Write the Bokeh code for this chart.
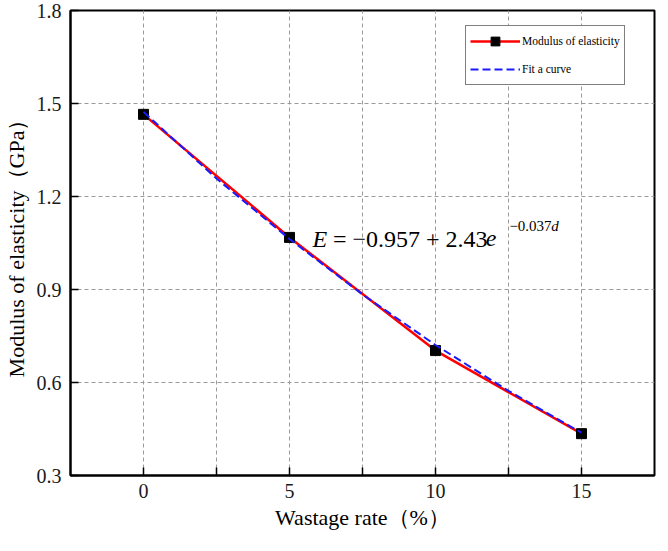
from bokeh.plotting import figure
from bokeh.models import Range1d, FixedTicker, Legend, LegendItem, Label
from bokeh.embed import file_html
from bokeh.resources import INLINE

# ---- data ----
wastage = [0, 5, 10, 15]
modulus = [1.465, 1.068, 0.703, 0.435]

fit_d = [0, 2.5, 5, 7.5, 10, 12.5, 15]
fit_e = [1.473, 1.258, 1.063, 0.884, 0.721, 0.573, 0.438]

x_ticks = [0, 5, 10, 15]
x_minor = [2.5, 7.5, 12.5]
y_ticks = [0.3, 0.6, 0.9, 1.2, 1.5, 1.8]
y_tick_labels = ["0.3", "0.6", "0.9", "1.2", "1.5", "1.8"]

FONT = "'Liberation Serif', 'Times New Roman', serif"

p = figure(width=660, height=535, output_backend="svg", toolbar_location=None,
           x_range=Range1d(-2.5, 17.5), y_range=Range1d(0.3, 1.8),
           min_border_left=65, min_border_right=6, min_border_top=10, min_border_bottom=60,
           background_fill_color="white", border_fill_color="white")

p.outline_line_color = "black"
p.outline_line_width = 2
p.outline_line_alpha = 1.0

xt = FixedTicker(ticks=x_ticks, minor_ticks=x_minor)
yt = FixedTicker(ticks=y_ticks, minor_ticks=[])
p.xaxis.ticker = xt
p.yaxis.ticker = yt
p.xgrid.ticker = xt
p.ygrid.ticker = yt
p.yaxis.major_label_overrides = {t: l for t, l in zip(y_ticks, y_tick_labels)}

for ax in (p.xaxis[0], p.yaxis[0]):
    ax.axis_line_color = "black"
    ax.axis_line_width = 2
    ax.major_tick_in = 8
    ax.major_tick_out = 0
    ax.major_tick_line_width = 1.5
    ax.major_tick_line_color = "black"
    ax.major_label_text_font = FONT
    ax.major_label_text_font_size = "20px"
    ax.major_label_text_color = "#1a1a1a"
    ax.axis_label_text_font = FONT
    ax.axis_label_text_font_size = "22px"
    ax.axis_label_text_font_style = "normal"
    ax.axis_label_text_color = "black"
p.xaxis.major_label_standoff = 8
p.xaxis.axis_label_standoff = 4
p.yaxis.major_label_standoff = 9
p.yaxis.axis_label_standoff = 5
p.xaxis.minor_tick_in = 8
p.xaxis.minor_tick_out = 0
p.xaxis.minor_tick_line_width = 1.5
p.xaxis.minor_tick_line_color = "black"
p.yaxis.minor_tick_line_color = None

p.xaxis.axis_label = "Wastage rate（%）"
p.yaxis.axis_label = "Modulus of elasticity（GPa）"

for g in (p.xgrid[0], p.ygrid[0]):
    g.grid_line_color = "#9a9a9a"
    g.grid_line_dash = "4 3"
    g.grid_line_width = 1
p.xgrid.minor_grid_line_color = "#9a9a9a"
p.xgrid.minor_grid_line_dash = "4 3"
p.xgrid.minor_grid_line_width = 1

red = p.line(wastage, modulus, line_color="#ff0000", line_width=2.5)
sq = p.scatter(wastage, modulus, marker="square", size=10,
               fill_color="black", line_color="black")
blue = p.line(fit_d, fit_e, line_color="#1a1aff", line_width=2, line_dash="8 4")

legend = Legend(items=[LegendItem(label="Modulus of elasticity", renderers=[red, sq]),
                       LegendItem(label="Fit a curve", renderers=[blue])],
                location=(395, 390), margin=0, padding=4, spacing=6,
                glyph_width=50, glyph_height=22, label_height=22, label_standoff=2,
                label_text_font=FONT, label_text_font_size="11.5px",
                label_text_color="black",
                border_line_color="black", border_line_width=1.5,
                background_fill_color="white", background_fill_alpha=1.0)
p.add_layout(legend)

# equation annotation
eq_y = 1.064
sup_y = 1.105
pieces = [
    (5.79, eq_y, "E", "24px", "italic"),
    (6.49, eq_y, "= \u22120.957 + 2.43", "24px", "normal"),
    (11.72, eq_y, "e", "24px", "italic"),
    (12.53, sup_y, "\u22120.037", "15px", "normal"),
    (13.96, sup_y, "d", "15px", "italic"),
]
for x, y, t, fs, st in pieces:
    p.add_layout(Label(x=x, y=y, text=t, text_font=FONT, text_font_size=fs,
                       text_font_style=st, text_color="black",
                       text_baseline="alphabetic", text_align="left"))

open("out.html", "w").write(file_html(p, INLINE))
